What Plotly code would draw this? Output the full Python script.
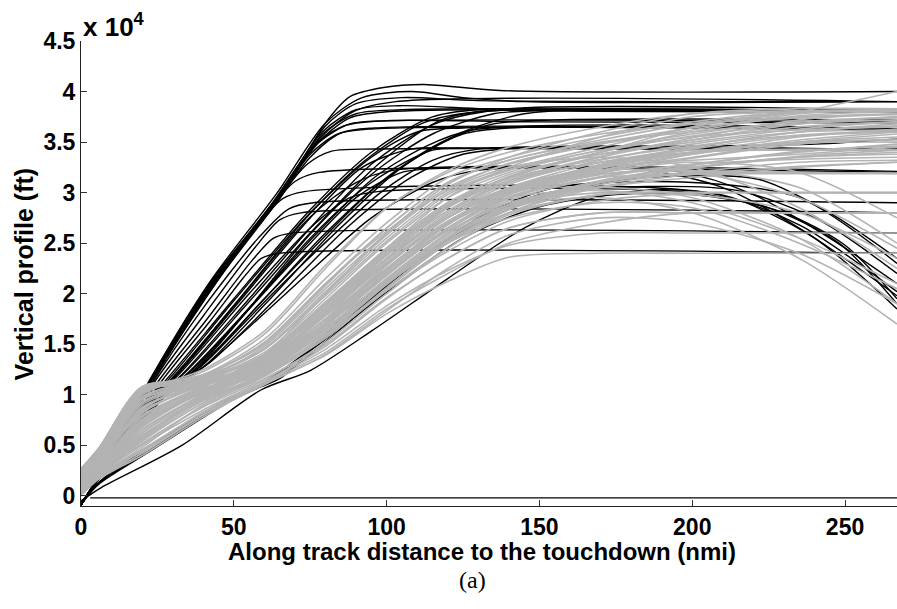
import plotly.graph_objects as go

# ---------------- data (altitudes in thousands of ft, distance in nmi) ----------------
X_TICKS = [0, 50, 100, 150, 200, 250]
Y_TICKS_KFT = [0, 5, 10, 15, 20, 25, 30, 35, 40, 45]
Y_TICK_TEXT = ["0", "0.5", "1", "1.5", "2", "2.5", "3", "3.5", "4", "4.5"]

# black group: each track is a list of (distance, altitude kft) knots
black_steep = [
    [(0,-0.9),(5,1.6),(21,10.6),(42,21.0),(65,29.8),(81,37.3),(88,39.5),(99,40.4),(112,40.7),(137,40.1),(267,40.0)],
    [(0,-0.9),(5,1.5),(21,10.5),(42,20.8),(65,29.6),(80,36.6),(90,38.8),(105,39.4),(130,39.1),(267,39.0)],
    [(0,-0.8),(5,1.5),(21,10.4),(42,20.6),(65,29.4),(79,35.8),(90,37.8),(105,38.2),(267,38.0)],
    [(0,-0.9),(5,1.6),(21,10.5),(42,20.7),(64,29.2),(78,35.0),(88,36.8),(100,37.1),(267,37.0)],
    [(0,-0.8),(5,1.4),(21,10.3),(42,20.4),(63,28.8),(75,33.8),(84,35.8),(95,36.3),(267,36.2)],
    [(0,-0.9),(5,1.5),(21,10.4),(42,20.3),(62,28.4),(74,32.8),(82,34.1),(92,34.3),(267,34.2)],
    [(0,-0.8),(5,1.5),(21,10.5),(42,20.2),(60,27.7),(70,31.1),(78,32.0),(267,32.0)],
    [(0,-0.9),(5,1.5),(21,10.4),(40,19.2),(57,26.5),(66,29.4),(73,30.1),(205,30.0),(235,26.8),(267,20.2)],
    [(0,-0.8),(5,1.4),(22,10.5),(40,18.6),(58,25.5),(68,28.4),(76,29.0),(267,29.0)],
    [(0,-0.9),(5,1.5),(23,10.8),(40,17.8),(57,24.6),(65,27.3),(72,28.0),(267,28.0)],
    [(0,-0.8),(5,1.4),(24,10.8),(41,17.4),(56,23.3),(63,25.5),(69,26.0),(267,26.0)],
    [(0,-0.9),(5,1.4),(25,10.8),(42,17.2),(54,21.9),(59,23.5),(65,24.0),(267,24.0)],
    [(0,-0.9),(5,1.6),(21,10.7),(42,21.1),(64,29.9),(80,36.9),(92,39.4),(108,40.0),(125,39.4),(145,39.0),(267,39.0)],
    [(0,-0.8),(5,1.5),(21,10.5),(42,20.5),(62,28.7),(76,34.6),(86,36.6),(98,37.1),(150,37.0),(267,36.9)],
    [(0,-0.9),(5,1.5),(21,10.6),(42,20.9),(64,29.5),(79,36.0),(90,38.2),(104,38.6),(140,38.2),(267,38.1)],
    [(0,-0.8),(5,1.6),(21,10.5),(42,20.7),(63,29.0),(77,34.8),(88,37.4),(100,38.0),(267,38.0)],
    [(0,-0.9),(5,1.5),(21,10.6),(43,21.0),(64,29.3),(78,35.3),(89,38.0),(103,39.0),(267,39.0)],
    [(0,-0.8),(5,1.4),(22,10.6),(43,20.6),(63,28.6),(75,33.5),(85,35.9),(96,36.4),(267,36.3)],
]

black_mid = [
    [(0,-0.9),(5,1.4),(20,9.0),(27,11.2),(50,19.5),(75,28.3),(95,34.0),(115,37.5),(135,38.3),(155,38.1),(267,38.0)],
    [(0,-0.9),(5,1.4),(20,9.0),(28,11.3),(50,19.3),(75,28.0),(95,33.5),(110,36.0),(125,36.4),(267,36.3)],
    [(0,-0.8),(5,1.4),(22,9.3),(30,11.5),(52,19.3),(75,27.5),(92,32.5),(108,34.3),(125,34.4),(267,34.3)],
    [(0,-0.8),(5,1.4),(22,9.5),(30,11.6),(52,19.5),(75,27.6),(90,31.0),(102,32.2),(267,32.1)],
    [(0,-0.9),(5,1.4),(23,9.5),(32,11.7),(55,19.5),(75,26.5),(95,32.8),(115,36.7),(132,38.0),(150,38.2),(267,38.1)],
    [(0,-0.9),(5,1.5),(22,9.5),(31,11.7),(55,20.0),(75,26.5),(88,29.5),(97,30.1),(200,30.0),(230,28.0),(250,24.8),(267,19.5)],
    [(0,-0.8),(5,1.5),(23,9.6),(33,11.9),(55,19.2),(75,26.0),(98,33.0),(118,37.2),(140,38.3),(267,38.2)],
    [(0,-0.9),(5,1.4),(24,9.7),(34,11.8),(55,18.6),(75,25.9),(95,31.8),(115,35.8),(135,37.8),(150,38.1),(267,38.0)],
    [(0,-0.8),(5,1.4),(24,9.6),(35,11.9),(55,18.5),(75,25.5),(95,31.0),(115,34.2),(130,34.4),(267,34.3)],
    [(0,-0.8),(5,1.4),(25,9.8),(36,12.0),(56,18.8),(75,25.0),(90,29.5),(105,32.0),(118,32.4),(195,32.1),(220,29.8),(245,25.5),(267,21.0)],
    [(0,-0.9),(5,1.4),(26,9.8),(38,12.5),(60,19.5),(80,26.0),(100,31.5),(118,35.0),(135,36.8),(155,37.2),(267,37.2)],
    [(0,-0.8),(5,1.4),(26,9.8),(39,12.8),(60,19.5),(75,24.2),(95,30.2),(110,33.5),(125,35.8),(140,36.4),(267,36.3)],
    [(0,-0.9),(5,1.4),(27,10.0),(40,13.0),(62,19.8),(78,24.5),(98,30.0),(115,33.2),(130,34.3),(267,34.2)],
    [(0,-0.9),(5,1.3),(28,10.0),(42,13.2),(75,22.2),(95,27.5),(115,31.0),(130,32.2),(185,32.2),(210,30.5),(235,26.5),(267,19.8)],
    [(0,-0.8),(5,1.4),(27,10.0),(41,13.0),(65,20.5),(85,27.0),(105,32.5),(125,36.0),(145,37.8),(165,38.2),(267,38.1)],
    [(0,-0.9),(5,1.4),(28,10.2),(43,13.4),(68,20.8),(88,26.8),(108,31.5),(125,33.8),(150,34.5),(200,34.6),(240,34.8),(267,35.3)],
    [(0,-0.9),(5,1.4),(21,9.2),(29,11.4),(51,19.2),(74,27.6),(93,33.2),(112,36.9),(130,38.0),(267,38.0)],
    [(0,-0.8),(5,1.4),(24,9.7),(34,11.9),(56,18.9),(76,25.6),(96,31.5),(113,34.6),(128,36.2),(267,36.3)],
]

black_low = [
    [(0,-0.8),(6,1.3),(22,4.4),(49,9.5),(59,10.8),(66,11.8),(88,18.4),(97,20.4),(121,25.6),(150,29.5),(175,31.2),(205,31.7),(222,31.3),(245,28.0),(267,23.5)],
    [(0,-0.8),(6,1.2),(22,4.3),(49,9.4),(60,11.0),(70,12.8),(95,19.0),(125,25.5),(150,28.6),(175,29.8),(200,29.8),(225,28.5),(248,25.0),(267,19.0)],
    [(0,-0.5),(6.5,0.8),(33,5.0),(59,10.5),(75,12.4),(95,16.3),(120,21.5),(145,26.5),(168,29.5),(190,30.3),(212,29.6),(240,25.5),(267,18.5)],
    [(0,-0.8),(6,1.3),(22,4.5),(48,9.3),(60,11.2),(80,15.5),(105,22.0),(130,27.5),(155,30.5),(200,31.0),(235,29.5),(267,23.0)],
    [(0,-0.9),(6,1.4),(21,4.6),(47,9.4),(58,10.9),(75,14.5),(100,20.8),(125,26.4),(150,29.8),(185,30.6),(215,30.2),(242,27.2),(267,22.0)],
    [(3,-0.2),(267,-0.2)],
]

# grey group: altitudes (kft) read at the shared distances below
gray_x = [0, 6, 20, 40, 60, 80, 100, 120, 140, 170, 200, 235, 267]
gray_tracks = [
    [0.0, 1.7, 4.0, 7.8, 11.1, 13.9, 18.0, 21.2, 23.6, 24.0, 24.0, 24.0, 24.0],
    [0.2, 1.9, 4.5, 8.3, 11.3, 14.5, 18.8, 22.3, 24.8, 26.0, 26.0, 26.0, 26.0],
    [0.5, 2.2, 5.2, 8.8, 11.6, 15.0, 19.6, 23.5, 26.5, 28.0, 28.0, 28.0, 28.0],
    [0.3, 2.0, 4.8, 9.0, 11.8, 15.6, 20.3, 24.5, 27.8, 29.8, 30.0, 30.0, 30.0],
    [1.0, 2.8, 6.0, 9.6, 12.0, 16.0, 21.0, 25.5, 28.6, 29.5, 28.0, 23.5, 17.0],
    [0.8, 2.6, 5.8, 9.9, 12.2, 16.5, 21.5, 26.0, 29.0, 30.5, 29.5, 25.5, 19.0],
    [1.5, 3.3, 7.0, 10.3, 12.5, 17.0, 22.0, 26.5, 29.5, 31.5, 31.8, 31.9, 31.9],
    [2.0, 3.8, 8.0, 10.6, 12.3, 16.2, 21.0, 25.0, 28.0, 31.0, 32.0, 32.0, 31.9],
    [2.5, 4.6, 10.5, 11.2, 12.8, 17.5, 22.5, 27.0, 30.0, 32.5, 34.0, 34.2, 34.2],
    [2.7, 4.8, 10.8, 11.5, 13.2, 18.0, 23.2, 27.8, 30.5, 33.0, 34.2, 34.2, 34.2],
    [1.2, 3.0, 7.5, 10.8, 13.0, 17.8, 23.0, 27.5, 30.2, 32.8, 34.5, 36.0, 36.8],
    [1.8, 3.5, 8.8, 11.0, 13.5, 18.5, 23.8, 28.2, 31.0, 33.5, 35.2, 36.8, 37.5],
    [2.2, 4.2, 9.8, 11.4, 14.0, 19.2, 24.5, 29.0, 31.5, 34.0, 36.0, 37.6, 38.0],
    [2.4, 4.5, 10.2, 11.8, 14.5, 20.0, 25.5, 30.0, 32.3, 34.5, 36.5, 38.0, 38.2],
    [0.6, 2.3, 5.5, 9.2, 12.0, 16.8, 22.2, 27.0, 30.0, 32.2, 33.5, 35.0, 35.8],
    [1.4, 3.1, 7.2, 10.5, 13.3, 18.2, 23.5, 28.0, 31.0, 33.0, 34.0, 35.5, 36.3],
    [2.0, 4.0, 9.5, 11.5, 14.8, 20.5, 26.0, 30.5, 32.8, 34.8, 36.2, 37.8, 38.3],
    [2.6, 4.7, 10.6, 12.0, 15.5, 21.5, 27.0, 31.5, 33.5, 35.5, 37.0, 38.0, 38.0],
    [2.3, 4.4, 10.0, 12.3, 16.0, 22.5, 28.5, 32.2, 34.5, 36.5, 37.8, 38.1, 38.1],
    [1.6, 3.4, 8.5, 11.8, 15.0, 21.0, 26.5, 31.0, 33.2, 35.0, 36.0, 37.0, 37.5],
    [0.9, 2.5, 6.5, 10.0, 12.5, 17.2, 22.8, 27.5, 30.5, 32.5, 33.2, 33.8, 34.5],
    [0.4, 2.1, 5.0, 8.5, 11.5, 15.2, 20.0, 24.5, 28.0, 30.5, 31.5, 32.5, 33.0],
    [1.1, 2.9, 7.0, 10.2, 12.6, 16.5, 21.5, 26.0, 29.2, 31.5, 32.8, 34.0, 34.8],
    [1.9, 3.7, 9.0, 11.2, 13.0, 17.5, 22.8, 27.2, 30.0, 32.0, 33.8, 35.2, 36.0],
    [2.5, 4.6, 10.4, 11.0, 12.5, 16.8, 22.0, 26.8, 29.8, 31.8, 32.5, 33.5, 34.0],
    [0.1, 1.8, 4.2, 8.0, 11.2, 14.2, 18.5, 22.0, 25.0, 27.0, 28.0, 28.0, 28.0],
    [0.7, 2.4, 5.6, 9.4, 12.0, 15.8, 20.5, 25.0, 27.5, 29.0, 28.5, 25.0, 20.5],
    [1.3, 3.0, 7.8, 10.6, 12.8, 17.2, 22.0, 26.2, 28.8, 30.0, 30.0, 30.0, 30.0],
    [2.1, 4.1, 9.6, 11.0, 13.6, 18.8, 24.0, 28.5, 31.2, 33.0, 34.0, 34.3, 34.2],
    [2.4, 4.4, 10.3, 11.6, 14.2, 19.5, 25.0, 29.5, 32.0, 34.2, 35.5, 36.2, 36.5],
    [1.7, 3.6, 8.6, 11.3, 14.0, 19.0, 24.3, 28.8, 31.5, 33.8, 35.0, 36.3, 37.0],
    [1.0, 2.7, 6.8, 10.4, 13.5, 18.5, 23.5, 27.8, 30.8, 33.2, 34.8, 36.0, 36.2],
    [0.5, 2.2, 5.4, 9.2, 12.2, 16.8, 21.8, 26.3, 29.5, 31.8, 32.2, 30.5, 25.0],
    [1.5, 3.2, 7.5, 10.8, 13.8, 18.2, 23.0, 27.0, 29.5, 30.2, 29.0, 25.5, 21.0],
    [2.2, 4.3, 9.8, 11.8, 15.2, 21.0, 26.2, 30.2, 32.5, 33.5, 32.5, 28.5, 22.5],
    [0.8, 2.5, 6.2, 9.8, 12.8, 17.5, 22.5, 27.0, 30.0, 32.0, 33.0, 32.0, 27.5],
    [2.6, 4.8, 10.7, 11.2, 13.0, 18.0, 23.5, 28.5, 31.5, 34.0, 36.5, 38.0, 40.0],
    [1.2, 3.0, 7.3, 10.7, 14.0, 20.0, 26.0, 30.8, 33.5, 36.0, 37.8, 38.3, 38.3],
    [2.0, 3.9, 9.2, 11.5, 13.8, 19.0, 24.5, 29.5, 32.5, 35.5, 37.5, 38.0, 38.0],
    [0.3, 2.0, 4.6, 8.2, 11.3, 14.8, 19.5, 23.5, 26.5, 28.0, 28.0, 28.0, 28.0],
    [1.8, 3.6, 8.4, 11.0, 13.2, 17.0, 21.2, 25.2, 28.0, 29.8, 30.0, 30.0, 30.0],
    [2.7, 4.8, 10.8, 11.3, 12.8, 16.5, 21.0, 25.5, 28.5, 31.0, 31.9, 31.9, 31.9],
    [1.4, 3.2, 7.6, 10.9, 13.6, 17.8, 22.5, 27.0, 30.0, 32.5, 34.0, 35.0, 35.2],
    [0.6, 2.3, 5.7, 9.6, 12.4, 16.2, 21.2, 25.8, 28.8, 31.2, 32.5, 33.5, 33.8],
    [2.3, 4.4, 10.1, 12.5, 16.3, 22.8, 28.5, 32.0, 34.0, 35.8, 36.8, 37.5, 37.8],
    [1.6, 3.4, 8.2, 11.0, 12.8, 16.0, 20.3, 24.2, 27.2, 29.2, 29.8, 28.0, 23.5],
    [0.2, 1.9, 4.4, 8.0, 11.0, 14.0, 18.3, 22.5, 25.8, 27.5, 27.0, 24.0, 19.0],
    [1.1, 2.8, 6.9, 10.3, 12.9, 17.0, 22.0, 26.5, 29.8, 32.2, 33.8, 35.0, 35.5],
    [2.1, 4.0, 9.5, 11.6, 14.5, 19.8, 25.2, 29.8, 32.2, 34.2, 35.8, 37.0, 37.4],
    [1.7, 3.5, 8.7, 11.1, 13.4, 18.0, 23.0, 27.5, 30.3, 32.6, 34.4, 36.0, 36.6],
    [0.9, 2.6, 6.3, 10.0, 12.7, 16.8, 21.8, 26.5, 29.6, 31.9, 33.4, 34.8, 35.3],
    [2.5, 4.6, 10.5, 11.9, 15.0, 20.8, 26.5, 31.0, 33.2, 35.2, 36.8, 37.9, 38.1],
    [1.3, 3.1, 7.4, 10.5, 13.1, 17.4, 22.3, 26.9, 30.1, 32.4, 33.9, 34.9, 35.0],
    [0.4, 2.1, 5.1, 8.9, 11.9, 15.6, 20.6, 25.2, 28.4, 30.8, 32.0, 33.0, 33.2],
    [1.9, 3.8, 9.2, 11.4, 13.9, 19.0, 24.5, 29.0, 31.8, 33.8, 35.2, 36.5, 37.0],
    [2.4, 4.5, 10.3, 11.3, 13.3, 18.3, 23.8, 28.2, 31.2, 33.6, 35.4, 37.2, 37.8],
    [0.7, 2.4, 5.9, 9.7, 12.6, 16.6, 21.3, 25.6, 28.8, 31.0, 32.4, 33.6, 34.2],
    [1.5, 3.3, 7.9, 10.9, 13.7, 18.6, 24.0, 28.6, 31.6, 34.0, 35.6, 36.8, 37.2],
    [2.0, 3.9, 9.3, 11.0, 12.6, 16.4, 21.4, 26.0, 29.4, 31.6, 32.8, 33.3, 33.5],
    [1.0, 2.7, 6.6, 10.1, 13.2, 18.0, 23.4, 27.6, 30.4, 32.2, 32.0, 29.5, 24.5],
    [2.6, 4.7, 10.7, 11.1, 12.4, 15.8, 20.5, 25.0, 28.3, 30.6, 31.8, 32.6, 33.0],
    [1.2, 2.9, 7.1, 10.4, 12.9, 17.1, 22.4, 27.1, 30.3, 32.7, 34.3, 35.6, 36.0],
    [0.8, 2.5, 6.0, 9.5, 12.1, 15.9, 20.9, 25.4, 28.6, 31.1, 32.7, 34.1, 34.6],
    [2.2, 4.2, 9.7, 11.7, 14.6, 20.2, 25.8, 30.3, 32.9, 34.9, 36.4, 37.4, 37.7],
    [1.6, 3.5, 8.3, 11.2, 13.9, 18.9, 24.2, 28.7, 31.4, 33.3, 34.6, 35.7, 36.1],
]

X_TITLE = "Along track distance to the touchdown (nmi)"
Y_TITLE = "Vertical profile (ft)"
EXPONENT = "x 10<sup>4</sup>"
CAPTION = "(a)"

# ---------------- figure ----------------
BLACK = "#000000"
GREY = "#b3b3b3"
fig = go.Figure()

for track in black_steep + black_mid + black_low:
    fig.add_trace(go.Scatter(
        x=[p[0] for p in track], y=[p[1] * 1000 for p in track],
        mode="lines", line=dict(color=BLACK, width=1.4, shape="spline", smoothing=0.8),
        hoverinfo="skip", showlegend=False))

for alts in gray_tracks:
    fig.add_trace(go.Scatter(
        x=gray_x, y=[a * 1000 for a in alts],
        mode="lines", line=dict(color=GREY, width=1.6, shape="spline", smoothing=0.8),
        hoverinfo="skip", showlegend=False))

SANS = "Liberation Sans, Arial, sans-serif"
tick_font = dict(family=SANS, size=23, color="#000", weight="bold")

fig.update_layout(
    width=897, height=609,
    margin=dict(l=81, r=0, t=41, b=103),
    paper_bgcolor="white", plot_bgcolor="white",
    xaxis=dict(range=[0, 267], tickvals=X_TICKS, ticks="inside", ticklen=6, tickcolor="#333",
               showline=True, linecolor="#222", linewidth=1, showgrid=False, zeroline=False,
               tickfont=tick_font),
    yaxis=dict(range=[-1000, 45000], tickvals=[v * 1000 for v in Y_TICKS_KFT], ticktext=Y_TICK_TEXT,
               ticks="inside", ticklen=6, tickcolor="#333",
               showline=True, linecolor="#222", linewidth=1, showgrid=False, zeroline=False,
               tickfont=tick_font),
)

fig.add_annotation(text=X_TITLE, xref="paper", yref="paper", x=0.492, y=-0.064,
                   xanchor="center", yanchor="top", showarrow=False,
                   font=dict(family=SANS, size=24, color="#000", weight="bold"))
fig.add_annotation(text=Y_TITLE, xref="paper", yref="paper", x=-0.07, y=0.5,
                   xanchor="center", yanchor="middle", textangle=-90, showarrow=False,
                   font=dict(family=SANS, size=25, color="#000", weight="bold"))
fig.add_annotation(text=EXPONENT, xref="paper", yref="paper", x=0.0, y=1.0, yshift=-3,
                   xanchor="left", yanchor="bottom", showarrow=False,
                   font=dict(family=SANS, size=26, color="#000", weight="bold"))
fig.add_annotation(text=CAPTION, xref="paper", yref="paper", x=0.48, y=-0.1265,
                   xanchor="center", yanchor="top", showarrow=False,
                   font=dict(family="Liberation Serif, Times New Roman, serif", size=24, color="#000"))

fig.write_html("out.html")
